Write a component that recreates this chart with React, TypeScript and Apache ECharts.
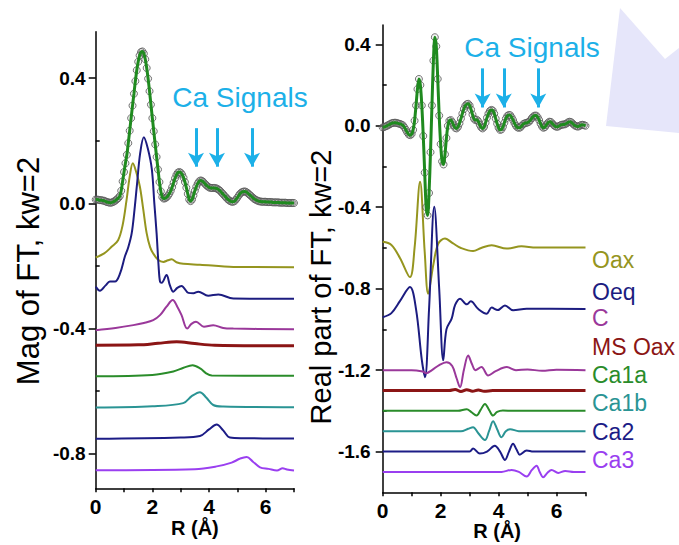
import React, { useEffect, useRef } from "react";
import * as echarts from "echarts";

// ---------- axes ----------
const R_STEP = 0.05;
const R_TICKS = [0, 1, 2, 3, 4, 5, 6, 7];
const R_LABELS = [0, 2, 4, 6];
const MAG_MAJOR = [-0.8, -0.4, 0, 0.4];
const MAG_MINOR = [-0.6, -0.2, 0.2];
const RE_MAJOR = [-1.6, -1.2, -0.8, -0.4, 0, 0.4];
const RE_MINOR = [-1.4, -1.0, -0.6, -0.2, 0.2];
const MAG_RANGE = [-0.91, 0.548];
const RE_RANGE = [-1.8, 0.495];

// ---------- experimental data / fit (R = 0 .. 7 step 0.05) ----------
const MAG_DATA = [
  0.012, 0.012, 0.011, 0.010, 0.010, 0.009, 0.008, 0.006, 0.004, 0.003,
  0.002, 0.002, 0.004, 0.006, 0.009, 0.013, 0.017, 0.023, 0.040, 0.070,
  0.100, 0.128, 0.155, 0.192, 0.232, 0.272, 0.312, 0.350, 0.390, 0.425,
  0.452, 0.472, 0.483, 0.485, 0.478, 0.460, 0.432, 0.398, 0.358, 0.315,
  0.272, 0.230, 0.188, 0.148, 0.108, 0.068, 0.038, 0.020, 0.015, 0.016,
  0.019, 0.024, 0.031, 0.040, 0.052, 0.066, 0.080, 0.091, 0.098, 0.100,
  0.098, 0.092, 0.082, 0.068, 0.050, 0.030, 0.012, 0.007, 0.012, 0.025,
  0.040, 0.053, 0.063, 0.070, 0.073, 0.072, 0.068, 0.063, 0.058, 0.054,
  0.051, 0.049, 0.049, 0.049, 0.049, 0.048, 0.046, 0.043, 0.039, 0.034,
  0.029, 0.024, 0.019, 0.014, 0.010, 0.007, 0.005, 0.005, 0.007, 0.012,
  0.018, 0.025, 0.031, 0.035, 0.037, 0.038, 0.037, 0.034, 0.030, 0.026,
  0.022, 0.018, 0.014, 0.011, 0.009, 0.007, 0.006, 0.005, 0.005, 0.005,
  0.005, 0.004, 0.004, 0.004, 0.004, 0.003, 0.003, 0.003, 0.003, 0.003,
  0.002, 0.002, 0.002, 0.002, 0.002, 0.001, 0.001, 0.001, 0.001, 0.001,
  0.001,
];

const RE_DATA = [
  -0.008, -0.006, -0.003, 0.000, 0.004, 0.008, 0.012, 0.014, 0.015, 0.015,
  0.013, 0.011, 0.009, 0.006, 0.002, -0.008, -0.020, -0.033, -0.043, -0.046,
  -0.040, -0.020, 0.025, 0.100, 0.180, 0.230, 0.200, 0.100, -0.050, -0.230,
  -0.400, -0.440, -0.330, -0.130, 0.100, 0.320, 0.435, 0.390, 0.230, 0.050,
  -0.090, -0.175, -0.190, -0.140, -0.060, 0.000, 0.025, 0.028, 0.018, 0.002,
  -0.010, -0.013, -0.005, 0.012, 0.035, 0.060, 0.082, 0.098, 0.106, 0.108,
  0.100, 0.080, 0.055, 0.035, 0.028, 0.030, 0.022, 0.005, -0.008, -0.013,
  -0.005, 0.015, 0.040, 0.060, 0.073, 0.078, 0.075, 0.060, 0.035, 0.010,
  -0.010, -0.020, -0.018, -0.005, 0.015, 0.035, 0.048, 0.053, 0.052, 0.042,
  0.028, 0.012, 0.000, -0.008, -0.010, -0.008, 0.000, 0.008, 0.012, 0.014,
  0.016, 0.020, 0.028, 0.038, 0.046, 0.050, 0.050, 0.042, 0.028, 0.010,
  -0.004, -0.010, -0.006, 0.004, 0.014, 0.020, 0.019, 0.012, 0.004, -0.002,
  -0.005, -0.004, 0.000, 0.004, 0.006, 0.006, 0.008, 0.012, 0.017, 0.020,
  0.018, 0.012, 0.005, 0.000, -0.003, -0.004, 0.000, 0.004, 0.005, 0.003,
  0.000,
];

// ---------- components, magnitude (offset stacked) ----------
const MAG_OAX = [[0, -0.173], [0.3, -0.16], [0.56, -0.139], [0.79, -0.118], [0.95, -0.07], [1.09, 0.011], [1.2, 0.085], [1.31, 0.128], [1.43, 0.1], [1.56, 0.053], [1.68, -0.02], [1.8, -0.096], [1.92, -0.14], [2.03, -0.16], [2.2, -0.18], [2.39, -0.187], [2.55, -0.182], [2.68, -0.179], [2.85, -0.188], [3.09, -0.193], [3.68, -0.196], [4.86, -0.203], [7, -0.204]];
const MAG_OEQ = [[0, -0.266], [0.15, -0.279], [0.35, -0.262], [0.5, -0.25], [0.68, -0.25], [0.86, -0.224], [1.03, -0.17], [1.15, -0.14], [1.27, -0.096], [1.37, -0.02], [1.45, 0.053], [1.57, 0.16], [1.7, 0.211], [1.84, 0.175], [1.98, 0.11], [2.07, 0.0], [2.15, -0.096], [2.22, -0.2], [2.27, -0.25], [2.33, -0.254], [2.5, -0.229], [2.62, -0.262], [2.74, -0.282], [2.88, -0.27], [3.03, -0.264], [3.27, -0.286], [3.45, -0.287], [3.62, -0.282], [3.97, -0.295], [4.33, -0.291], [4.86, -0.304], [7, -0.305]];
const MAG_C = [[0, -0.405], [0.7, -0.398], [1.33, -0.389], [1.7, -0.382], [2.03, -0.373], [2.27, -0.357], [2.5, -0.33], [2.72, -0.309], [2.88, -0.33], [3.03, -0.357], [3.23, -0.4], [3.38, -0.385], [3.54, -0.378], [3.82, -0.394], [4.15, -0.389], [4.5, -0.398], [4.86, -0.4], [7, -0.402]];
const MAG_MSOAX = [[0, -0.453], [1.5, -0.452], [2.2, -0.447], [2.86, -0.442], [3.5, -0.448], [4.2, -0.453], [7, -0.455]];
const MAG_CA1A = [[0, -0.552], [2.0, -0.548], [2.74, -0.537], [3.1, -0.525], [3.42, -0.517], [3.7, -0.528], [3.9, -0.543], [4.1, -0.55], [7, -0.551]];
const MAG_CA1B = [[0, -0.652], [2.0, -0.648], [3.09, -0.638], [3.4, -0.615], [3.68, -0.603], [3.9, -0.62], [4.15, -0.644], [4.5, -0.649], [7, -0.651]];
const MAG_CA2 = [[0, -0.752], [3.0, -0.748], [3.68, -0.743], [4.0, -0.722], [4.27, -0.706], [4.5, -0.725], [4.74, -0.748], [5.2, -0.75], [7, -0.751]];
const MAG_CA3 = [[0, -0.852], [3.5, -0.849], [4.27, -0.84], [4.8, -0.828], [5.1, -0.815], [5.33, -0.81], [5.55, -0.825], [5.8, -0.843], [6.1, -0.848], [6.4, -0.853], [6.6, -0.846], [6.75, -0.85], [7, -0.853]];

// ---------- components, real part (offset stacked) ----------
const RE_OAX = [[0, -0.57], [0.3, -0.585], [0.6, -0.65], [0.94, -0.743], [1.1, -0.6], [1.29, -0.275], [1.45, -0.62], [1.57, -0.825], [1.75, -0.68], [1.92, -0.578], [2.15, -0.554], [2.43, -0.578], [2.7, -0.6], [3.12, -0.615], [3.4, -0.6], [3.76, -0.587], [4.28, -0.603], [4.79, -0.592], [5.3, -0.598], [7, -0.598]];
const RE_OEQ = [[0, -0.94], [0.3, -0.92], [0.6, -0.86], [0.94, -0.792], [1.15, -0.9], [1.35, -1.15], [1.46, -1.235], [1.6, -0.9], [1.78, -0.398], [1.95, -0.8], [2.09, -1.152], [2.2, -1.0], [2.38, -0.947], [2.5, -0.88], [2.67, -0.849], [2.9, -0.877], [3.04, -0.862], [3.3, -0.9], [3.59, -0.923], [3.76, -0.893], [3.97, -0.905], [4.22, -0.882], [4.5, -0.906], [4.97, -0.898], [7, -0.9]];
const RE_C = [[0, -1.2], [1.0, -1.2], [1.38, -1.207], [1.5, -1.215], [1.7, -1.2], [1.95, -1.175], [2.2, -1.161], [2.4, -1.18], [2.55, -1.24], [2.67, -1.284], [2.8, -1.2], [2.95, -1.128], [3.08, -1.17], [3.2, -1.2], [3.41, -1.185], [3.64, -1.226], [3.9, -1.205], [4.28, -1.185], [4.6, -1.2], [5.0, -1.197], [5.5, -1.203], [6.0, -1.198], [7, -1.2]];
const RE_MSOAX = [[0, -1.3], [2.3, -1.3], [2.5, -1.295], [2.7, -1.305], [2.9, -1.296], [3.1, -1.304], [3.3, -1.297], [3.5, -1.304], [3.8, -1.3], [7, -1.3]];
const RE_CA1A = [[0, -1.4], [2.6, -1.4], [2.9, -1.392], [3.05, -1.405], [3.24, -1.423], [3.38, -1.395], [3.53, -1.366], [3.67, -1.395], [3.81, -1.423], [3.95, -1.405], [4.15, -1.398], [4.5, -1.4], [7, -1.4]];
const RE_CA1B = [[0, -1.5], [2.7, -1.5], [2.95, -1.488], [3.12, -1.48], [3.3, -1.51], [3.53, -1.543], [3.67, -1.5], [3.81, -1.451], [3.95, -1.49], [4.1, -1.53], [4.25, -1.5], [4.4, -1.49], [4.7, -1.5], [7, -1.5]];
const RE_CA2 = [[0, -1.6], [3.0, -1.6], [3.12, -1.585], [3.35, -1.61], [3.6, -1.6], [3.87, -1.571], [4.05, -1.6], [4.22, -1.641], [4.36, -1.6], [4.5, -1.562], [4.62, -1.59], [4.73, -1.615], [4.97, -1.595], [5.2, -1.6], [7, -1.6]];
const RE_CA3 = [[0, -1.7], [4.1, -1.7], [4.45, -1.69], [4.7, -1.7], [4.97, -1.723], [5.15, -1.69], [5.31, -1.669], [5.42, -1.7], [5.54, -1.726], [5.68, -1.705], [5.83, -1.69], [6.06, -1.705], [6.3, -1.695], [6.6, -1.7], [7, -1.7]];

const COMPONENT_NAMES = ["Oax", "Oeq", "C", "MS Oax", "Ca1a", "Ca1b", "Ca2", "Ca3"];
const COMPONENT_COLORS = ["#95951f", "#1c1c80", "#9a389a", "#8b1515", "#2a8c2a", "#2a9494", "#1c1c86", "#9a3ff0"];
const MAG_COMPONENTS = [MAG_OAX, MAG_OEQ, MAG_C, MAG_MSOAX, MAG_CA1A, MAG_CA1B, MAG_CA2, MAG_CA3];
const RE_COMPONENTS = [RE_OAX, RE_OEQ, RE_C, RE_MSOAX, RE_CA1A, RE_CA1B, RE_CA2, RE_CA3];

// Ca signal arrows: [R, yStart, yEnd]
const MAG_ARROWS = [[3.54, 0.24, 0.117], [4.28, 0.24, 0.117], [5.52, 0.24, 0.117]];
const RE_ARROWS = [[3.45, 0.282, 0.09], [4.18, 0.282, 0.09], [5.37, 0.282, 0.09]];

const FIT_COLOR = "#1f8a1f";
const CA_COLOR = "#1cb0e8";

export default function App() {
  const ref = useRef<HTMLDivElement>(null);

  useEffect(() => {
    if (!ref.current) return;
    const chart = echarts.init(ref.current, null, { renderer: "svg" });
    const font = '"Liberation Sans", Arial, sans-serif';
    const xy = (arr: number[]) => arr.map((v, i) => [Math.round(i * R_STEP * 100) / 100, v]);

    const xAxis = (gridIndex: number, padLeft: number, gap: number) => ({
      type: "value",
      gridIndex,
      min: 0,
      max: 7,
      axisLine: { show: true, onZero: false, lineStyle: { color: "#000", width: 1.5 } },
      axisTick: { show: true, customValues: R_TICKS, length: 4, lineStyle: { color: "#000", width: 1.5 } },
      axisLabel: {
        show: true, customValues: R_LABELS, margin: 8, color: "#000", fontSize: 21,
        fontWeight: "bold", fontFamily: font, formatter: (v: number) => String(v),
      },
      splitLine: { show: false },
      name: "R (Å)",
      nameLocation: "middle",
      nameGap: gap,
      nameMoveOverlap: false,
      nameTextStyle: {
        fontSize: 20, fontWeight: "bold", color: "#000", fontFamily: font,
        padding: [0, 0, 0, padLeft], lineHeight: 20,
      },
    });
    const yMain = (gridIndex: number, range: number[], major: number[], margin: number) => ({
      type: "value",
      gridIndex,
      min: range[0],
      max: range[1],
      axisLine: { show: true, onZero: false, lineStyle: { color: "#000", width: 1.5 } },
      axisTick: { show: true, customValues: major, length: 7, lineStyle: { color: "#000", width: 1.5 } },
      axisLabel: {
        show: true, customValues: major, margin, color: "#000", fontSize: 19,
        fontWeight: "bold", fontFamily: font, formatter: (v: number) => v.toFixed(1),
      },
      splitLine: { show: false },
    });
    const yMinor = (gridIndex: number, range: number[], minor: number[]) => ({
      type: "value",
      gridIndex,
      min: range[0],
      max: range[1],
      axisLine: { show: false },
      axisTick: { show: true, customValues: minor, length: 4, lineStyle: { color: "#000", width: 1.5 } },
      axisLabel: { show: false },
      splitLine: { show: false },
    });

    const comp = (data: number[][], color: string, xi: number, yi: number, width: number) => ({
      type: "line", xAxisIndex: xi, yAxisIndex: yi, data, smooth: 0.35, showSymbol: false, symbol: "none",
      lineStyle: { color, width }, silent: true, z: 2,
    });
    const scatter = (arr: number[], xi: number, yi: number) => ({
      type: "scatter", xAxisIndex: xi, yAxisIndex: yi, data: xy(arr), symbol: "circle", symbolSize: 7,
      itemStyle: { color: "rgba(200,200,200,0.25)", borderColor: "#555", borderWidth: 1 }, silent: true, z: 3,
    });
    const fit = (arr: number[], xi: number, yi: number, arrows: number[][]) => ({
      type: "line", xAxisIndex: xi, yAxisIndex: yi, data: xy(arr), smooth: 0.3, showSymbol: false, symbol: "none",
      lineStyle: { color: FIT_COLOR, width: 3 }, silent: true, z: 4,
      markLine: {
        silent: true, symbol: ["none", "arrow"], symbolSize: [12, 14], animation: false,
        label: { show: false }, emphasis: { disabled: true },
        lineStyle: { color: CA_COLOR, width: 3, type: "solid" },
        data: arrows.map(([x, y1, y2]) => [{ coord: [x, y1] }, { coord: [x, y2] }]),
      },
    });

    const series: any[] = [];
    MAG_COMPONENTS.forEach((d, i) => series.push(comp(d, COMPONENT_COLORS[i], 0, 0, i === 3 ? 3 : 2)));
    RE_COMPONENTS.forEach((d, i) => series.push(comp(d, COMPONENT_COLORS[i], 1, 2, i === 3 ? 3 : 2)));
    series.push(scatter(MAG_DATA, 0, 0));
    series.push(scatter(RE_DATA, 1, 2));
    series.push(fit(MAG_DATA, 0, 0, MAG_ARROWS));
    series.push(fit(RE_DATA, 1, 2, RE_ARROWS));

    const txt = (text: string, x: number, y: number, size: number, fill: string, align = "center", rotation = 0) => ({
      type: "text", x, y, rotation, silent: true, z: 10,
      style: {
        text, fill, font: `${size}px ${font}`,
        align, verticalAlign: "middle", textAlign: align, textVerticalAlign: "middle",
      },
    });
    const labelY = [260, 292, 318, 347, 375, 403, 432, 460];

    const graphic: any[] = [
      {
        type: "polygon", silent: true, z: 0,
        shape: { points: [[620, 8], [665, 59], [679, 48], [679, 133], [606, 126]] },
        style: { fill: "#e6e6fa" },
      },
      txt("Ca Signals", 240, 97, 28, CA_COLOR),
      txt("Ca Signals", 532, 47, 28, CA_COLOR),
      txt("Mag of FT, kw=2", 28, 271, 31, "#000", "center", Math.PI / 2),
      txt("Real part of FT, kw=2", 321, 287, 29, "#000", "center", Math.PI / 2),
      ...COMPONENT_NAMES.map((n, i) => txt(n, 592, labelY[i], 23, COMPONENT_COLORS[i], "left")),
    ];

    chart.setOption({
      animation: false,
      backgroundColor: "#fff",
      grid: [
        { left: 95.7, top: 31.7, width: 198.3, height: 456.6, outerBoundsMode: "none" },
        { left: 382.7, top: 25, width: 202.8, height: 467.3, outerBoundsMode: "none" },
      ],
      xAxis: [xAxis(0, 0, 30), xAxis(1, 26, 29)],
      yAxis: [
        yMain(0, MAG_RANGE, MAG_MAJOR, 10),
        yMinor(0, MAG_RANGE, MAG_MINOR),
        yMain(1, RE_RANGE, RE_MAJOR, 12),
        yMinor(1, RE_RANGE, RE_MINOR),
      ],
      series,
      graphic,
    });
    return () => chart.dispose();
  }, []);

  return (
    <div
      ref={ref}
      style={{ position: "absolute", left: 0, top: 0, width: 679, height: 545, background: "#fff" }}
    />
  );
}
